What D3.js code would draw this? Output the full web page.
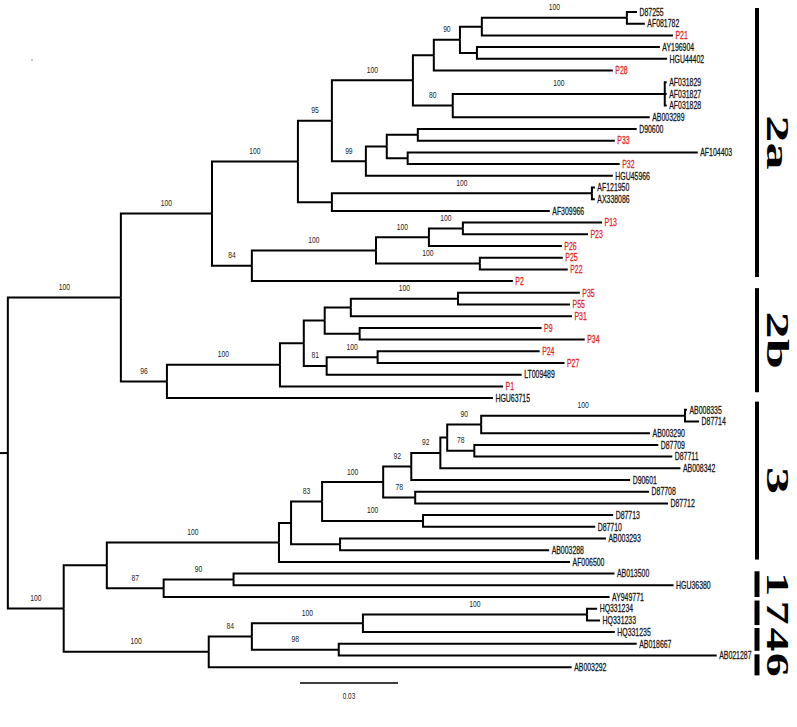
<!DOCTYPE html>
<html><head><meta charset="utf-8">
<script src="https://cdn.jsdelivr.net/npm/d3@7"></script>
<style>body{margin:0;background:#fff}svg{display:block}</style>
</head><body>
<svg id="chart" width="797" height="727"></svg>
<script>
// Each row: [node, parent, branch length (substitutions/site), bootstrap]
const rootBranches = [
  ["root", null, 0.0024, null],
  ["G2", "root", 0.0346, 100],
  ["Gbot", "root", 0.0171, 100]
];
const g2aBranches = [
  ["G2a", "G2", 0.0279, 100],
  ["B", "G2a", 0.0263, 100],
  ["C", "B", 0.0104, 95],
  ["D", "C", 0.0248, 100],
  ["n5", "D", 0.0064, null],
  ["n4", "n5", 0.0080, 90],
  ["n2p", "n4", 0.0067, null],
  ["n1", "n2p", 0.0444, 100],
  ["D87255", "n1", 0.0031, null],
  ["AF081782", "n1", 0.0055, null],
  ["P21", "n2p", 0.0585, null],
  ["n3", "n4", 0.0052, null],
  ["AY196904", "n3", 0.0560, null],
  ["HGU44402", "n3", 0.0582, null],
  ["P28", "n5", 0.0548, null],
  ["n6", "D", 0.0122, 80],
  ["nAF", "n6", 0.0649, 100],
  ["AF031829", "nAF", 0.0006, null],
  ["AF031827", "nAF", 0.0006, null],
  ["AF031828", "nAF", 0.0006, null],
  ["AB003289", "n6", 0.0603, null],
  ["n99", "C", 0.0104, 99],
  ["nq", "n99", 0.0064, null],
  ["nr", "nq", 0.0095, null],
  ["D90600", "nr", 0.0670, null],
  ["P33", "nr", 0.0603, null],
  ["ns", "nq", 0.0064, null],
  ["AF104403", "ns", 0.0888, null],
  ["P32", "ns", 0.0649, null],
  ["HGU45966", "n99", 0.0756, null],
  ["n100b", "B", 0.0104, null],
  ["nt", "n100b", 0.0796, 100],
  ["AF121950", "nt", 0.0009, null],
  ["AX338086", "nt", 0.0009, null],
  ["AF309966", "n100b", 0.0667, null],
  ["n84", "G2a", 0.0122, 84],
  ["n100c", "n84", 0.0380, 100],
  ["nu", "n100c", 0.0162, 100],
  ["nv", "nu", 0.0104, 100],
  ["P13", "nv", 0.0426, null],
  ["P23", "nv", 0.0383, null],
  ["P26", "nu", 0.0407, null],
  ["nw", "n100c", 0.0318, 100],
  ["P25", "nw", 0.0254, null],
  ["P22", "nw", 0.0269, null],
  ["P2", "n84", 0.0799, null]
];
const g2bBranches = [
  ["G2b", "G2", 0.0141, 96],
  ["n100d", "G2b", 0.0346, 100],
  ["nb", "n100d", 0.0073, null],
  ["na", "nb", 0.0064, null],
  ["nx", "na", 0.0080, null],
  ["ny", "nx", 0.0328, 100],
  ["P35", "ny", 0.0373, null],
  ["P55", "ny", 0.0343, null],
  ["P31", "nx", 0.0677, null],
  ["nz", "na", 0.0107, null],
  ["P9", "nz", 0.0557, null],
  ["P34", "nz", 0.0689, null],
  ["n81", "nb", 0.0070, 81],
  ["n100g", "n81", 0.0156, 100],
  ["P24", "n100g", 0.0496, null],
  ["P27", "n100g", 0.0572, null],
  ["LT009489", "n81", 0.0597, null],
  ["P1", "n100d", 0.0683, null],
  ["HGU63715", "G2b", 0.0998, null]
];
const g3Branches = [
  ["n317", "Gbot", 0.0132, null],
  ["G3", "n317", 0.0527, 100],
  ["nc", "G3", 0.0037, null],
  ["n83", "nc", 0.0095, 83],
  ["n100e", "n83", 0.0187, 100],
  ["n92b", "n100e", 0.0086, 92],
  ["n92a", "n92b", 0.0089, 92],
  ["ny3", "n92a", 0.0021, null],
  ["n90", "ny3", 0.0104, 90],
  ["n100h", "n90", 0.0624, 100],
  ["AB008335", "n100h", 0.0006, null],
  ["D87714", "n100h", 0.0043, null],
  ["AB003290", "n90", 0.0517, null],
  ["n78a", "ny3", 0.0083, 78],
  ["D87709", "n78a", 0.0563, null],
  ["D87711", "n78a", 0.0606, null],
  ["AB008342", "n92a", 0.0735, null],
  ["D90601", "n92b", 0.0670, null],
  ["n78b", "n100e", 0.0098, 78],
  ["D87708", "n78b", 0.0716, null],
  ["D87712", "n78b", 0.0774, null],
  ["n100i", "n83", 0.0309, 100],
  ["D87713", "n100i", 0.0582, null],
  ["D87710", "n100i", 0.0527, null],
  ["nab", "nc", 0.0150, null],
  ["AB003293", "nab", 0.0814, null],
  ["AB003288", "nab", 0.0640, null],
  ["AF006500", "G3", 0.0891, null]
];
const g1746Branches = [
  ["n87", "n317", 0.0174, 87],
  ["n90b", "n87", 0.0214, 90],
  ["AB013500", "n90b", 0.1166, null],
  ["HGU36380", "n90b", 0.1347, null],
  ["AY949771", "n87", 0.1365, null],
  ["n46", "Gbot", 0.0444, 100],
  ["n84b", "n46", 0.0132, 84],
  ["n100f", "n84b", 0.0340, 100],
  ["nhq", "n100f", 0.0686, 100],
  ["HQ331234", "nhq", 0.0031, null],
  ["HQ331233", "nhq", 0.0040, null],
  ["HQ331235", "n100f", 0.0771, null],
  ["n98", "n84b", 0.0266, 98],
  ["AB018667", "n98", 0.0912, null],
  ["AB021287", "n98", 0.1157, null],
  ["AB003292", "n46", 0.1111, null]
];
// isolates of this study (drawn in red)
const studyIsolates = ["P21","P28","P33","P32","P13","P23","P26","P25","P22","P2",
  "P35","P55","P31","P9","P34","P24","P27","P1"];
// genotype clades and their vertical extent in tip-row units
const cladeNames = ["2a", "2b", "3", "1", "7", "4", "6"];
const cladeSpans = [[-0.35, 22.65], [23.6, 32.5], [33.3, 46.8], [47.8, 50.0], [50.3, 52.4], [52.65, 54.6], [54.9, 56.7]];
const scaleBarValue = 0.03;

// ---------- layout ----------
const all = [].concat(rootBranches, g2aBranches, g2bBranches, g3Branches, g1746Branches);
const root = d3.stratify().id(d => d[0]).parentId(d => d[1])(all);
root.eachBefore(n => { n.dist = (n.parent ? n.parent.dist : 0) + n.data[2]; });
const leaves = root.leaves();
const x = d3.scaleLinear().domain([0, 0.03]).range([0, 98]);
const y = d3.scaleLinear().domain([0, leaves.length - 1]).range([12, 667.2]);
leaves.forEach((l, i) => { l.yy = y(i); });
root.eachAfter(n => {
  if (n.children) n.yy = (n.children[0].yy + n.children[n.children.length - 1].yy) / 2;
});

const svg = d3.select("#chart");
const gTree = svg.append("g");

// root stub
gTree.append("path")
  .attr("d", `M${x(0)},${root.yy}H${x(root.dist)}`)
  .attr("stroke", "#000").attr("stroke-width", 2).attr("fill", "none");

// elbows
gTree.selectAll("path.br").data(root.descendants().filter(n => n.parent)).join("path")
  .attr("class", "br")
  .attr("d", n => `M${x(n.parent.dist)},${n.parent.yy}V${n.yy}H${x(n.dist)}`)
  .attr("stroke", "#000").attr("stroke-width", 2).attr("fill", "none")
  .attr("stroke-linejoin", "miter");

// tip labels
const tipG = svg.append("g");
tipG.selectAll("g").data(leaves).join("g")
  .attr("transform", n => `translate(${x(n.dist) + 2.5},${n.yy}) scale(0.66,1)`)
  .append("text")
  .attr("dy", "0.36em")
  .attr("font-family", "'Liberation Sans', Arial, sans-serif")
  .attr("font-size", 10.5)
  .attr("fill", n => studyIsolates.includes(n.id) ? "#e3211c" : "#111")
  .attr("stroke", n => studyIsolates.includes(n.id) ? "#e3211c" : "#111")
  .attr("stroke-width", 0.25)
  .text(n => n.id);

// bootstrap labels
const bsG = svg.append("g");
bsG.selectAll("g").data(root.descendants().filter(n => n.parent && n.data[3] != null)).join("g")
  .attr("transform", n => `translate(${(x(n.parent.dist) + x(n.dist)) / 2},${n.yy - 7.5}) scale(0.75,1)`)
  .append("text")
  .attr("text-anchor", "middle")
  .attr("font-family", "'Liberation Sans', Arial, sans-serif")
  .attr("font-size", 9)
  .attr("fill", "#222")
  .text(n => n.data[3]);

// scale bar
const sbx = 300, sby = 683;
svg.append("line").attr("x1", sbx).attr("x2", sbx + x(scaleBarValue) - x(0))
  .attr("y1", sby).attr("y2", sby).attr("stroke", "#000").attr("stroke-width", 1.6);
svg.append("g").attr("transform", `translate(${sbx + (x(scaleBarValue) - x(0)) / 2},${sby + 16}) scale(0.75,1)`)
  .append("text").attr("text-anchor", "middle")
  .attr("font-family", "'Liberation Sans', Arial, sans-serif").attr("font-size", 8.5)
  .attr("fill", "#222").text(scaleBarValue.toFixed(2));

// clade bars and labels
const cladeG = svg.append("g");
cladeNames.forEach((name, i) => {
  const [a, b] = cladeSpans[i];
  const small = i > 2;
  cladeG.append("line").attr("x1", 757).attr("x2", 757)
    .attr("y1", y(a)).attr("y2", y(b))
    .attr("stroke", "#000").attr("stroke-width", small ? 5 : 4);
  cladeG.append("g")
    .attr("transform", `translate(778,${(y(a) + y(b)) / 2}) rotate(90) scale(${small ? 1.5 : 1.7},1)`)
    .append("text").attr("text-anchor", "middle").attr("dy", "0.35em")
    .attr("font-family", "'Liberation Serif', 'Times New Roman', serif")
    .attr("font-weight", "bold").attr("font-size", 32)
    .attr("fill", "#000").text(name);
});

// small speck in upper-left corner of the original figure
svg.append("circle").attr("cx", 32).attr("cy", 60).attr("r", 0.7).attr("fill", "#666");
</script>
</body></html>
